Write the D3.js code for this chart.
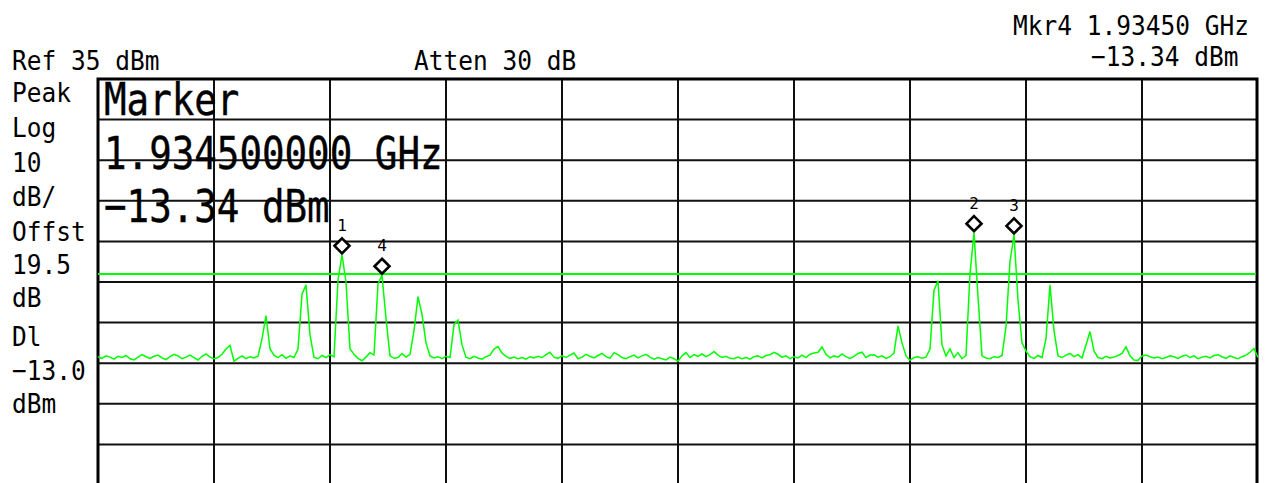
<!DOCTYPE html>
<html><head><meta charset="utf-8">
<script src="https://cdn.jsdelivr.net/npm/d3@7"></script>
<style>html,body{margin:0;padding:0;background:#fff;} svg{display:block;}</style>
</head><body>
<svg id="chart" width="1267" height="483"></svg>
<script>
// ---- data ----
const traceDbm = [
-33.4, -33.8, -33.2, -33.5, -34.0, -33.3, -33.6, -33.1, -33.9, -34.2,
-33.5, -32.9, -33.4, -33.8, -33.3, -33.0, -33.7, -34.1, -33.4, -32.8,
-33.2, -33.9, -33.5, -33.0, -33.6, -34.2, -33.3, -32.7, -33.5, -33.9,
-33.6, -32.8, -31.5, -30.6, -34.5, -33.8, -33.2, -33.9, -33.4, -33.7,
-33.3, -29.0, -23.3, -31.5, -33.0, -33.6, -32.9, -33.8, -33.2, -33.6,
-31.5, -18.0, -15.7, -28.0, -33.5, -33.9, -33.1, -33.6, -32.9, -33.4,
-14.5, -8.3, -15.0, -31.5, -32.8, -33.8, -34.4, -33.5, -32.4, -33.0,
-15.5, -13.34, -24.0, -33.2, -33.8, -33.6, -32.6, -33.5, -32.8, -27.0,
-18.6, -23.0, -30.0, -33.2, -33.7, -33.4, -33.9, -33.3, -33.6, -25.5,
-24.4, -30.5, -33.5, -33.9, -33.3, -33.7, -34.0, -33.4, -33.0, -31.5,
-30.9, -32.5, -33.3, -33.8, -33.5, -33.9, -33.6, -34.0, -33.4, -33.7,
-33.3, -33.6, -32.9, -32.3, -33.5, -33.8, -33.2, -33.6, -33.0, -32.5,
-33.9, -33.5, -32.8, -33.3, -33.7, -33.1, -32.6, -33.4, -33.8, -32.4,
-32.9, -33.6, -33.9, -33.4, -33.0, -33.7, -33.2, -32.8, -33.5, -34.0,
-33.6, -33.9, -34.2, -33.5, -33.9, -34.5, -33.2, -32.4, -33.6, -32.9,
-33.3, -32.7, -33.4, -32.9, -32.1, -33.0, -33.6, -33.3, -33.8, -33.9,
-33.5, -33.9, -33.6, -34.0, -33.4, -33.2, -33.7, -33.1, -32.9, -32.3,
-32.8, -33.5, -33.2, -33.9, -33.4, -33.7, -33.0, -33.6, -32.8, -32.5,
-32.3, -31.0, -32.8, -33.7, -33.2, -33.5, -32.7, -33.4, -33.8, -33.3,
-32.6, -32.3, -33.6, -33.0, -32.9, -33.5, -33.2, -33.8, -33.4, -32.5,
-25.8, -30.0, -33.2, -34.3, -33.6, -33.4, -33.8, -33.5, -31.5, -17.0,
-14.7, -30.5, -33.2, -31.5, -33.6, -32.4, -33.9, -33.1, -13.0, -2.85,
-18.6, -33.2, -33.7, -33.9, -33.4, -33.6, -33.1, -26.0, -10.0, -3.4,
-19.4, -30.0, -32.0, -33.4, -33.8, -33.1, -33.6, -29.0, -15.7, -27.0,
-33.2, -33.6, -33.0, -32.6, -33.4, -32.9, -33.7, -30.5, -27.2, -32.0,
-33.6, -33.9, -33.3, -33.7, -33.5, -33.1, -32.6, -31.0, -33.2, -34.2,
-34.3, -33.2, -33.0, -33.4, -33.7, -33.5, -33.9, -33.6, -33.2, -33.4,
-33.8, -33.3, -33.0, -33.6, -33.2, -33.9, -33.5, -33.3, -33.7, -33.1,
-32.9, -33.4, -33.8, -33.2, -33.6, -33.9, -33.4, -33.0, -32.3, -31.4,
-33.6
];
const refLevelDbm = 35;
const dbPerDiv = 10;
const numDivs = 10;
const displayLineDbm = -13.0;
const markerLabels = ["1", "4", "2", "3"];
const markerIndex = [61, 71, 219, 229];
const leftLabels = ["Peak", "Log", "10", "dB/", "Offst", "19.5", "dB", "Dl", "\u221213.0", "dBm"];
const headerLeft = "Ref 35 dBm";
const headerMid = "Atten 30 dB";
const mkrLine1 = "Mkr4 1.93450 GHz";
const mkrLine2 = "\u221213.34 dBm";
const bigLines = ["Marker", "1.934500000 GHz", "\u221213.34 dBm"];

// ---- layout ----
const L = 98, R = 1258, T = 79, B = 485;
const green = "#00ff00";
const mono = "'DejaVu Sans Mono', monospace";

const svg = d3.select("#chart");
const x = d3.scaleLinear().domain([0, traceDbm.length - 1]).range([L, R]);
const y = d3.scaleLinear().domain([refLevelDbm, refLevelDbm - dbPerDiv * numDivs]).range([T, B]);
const xDiv = d3.scaleLinear().domain([0, numDivs]).range([L, R]);

// grid
const grid = svg.append("g");
grid.selectAll("line.v").data(d3.range(1, numDivs)).join("line")
  .attr("x1", d => xDiv(d)).attr("x2", d => xDiv(d))
  .attr("y1", T).attr("y2", B)
  .attr("stroke", "#111").attr("stroke-width", 2);
grid.selectAll("line.h").data(d3.range(1, numDivs)).join("line")
  .attr("x1", L).attr("x2", R)
  .attr("y1", d => y(refLevelDbm - d * dbPerDiv)).attr("y2", d => y(refLevelDbm - d * dbPerDiv))
  .attr("stroke", "#111").attr("stroke-width", 2);
// frame
svg.append("path")
  .attr("d", `M${L},${B} L${L},${T} L${R - 1},${T} L${R - 1},${B}`)
  .attr("fill", "none").attr("stroke", "#000").attr("stroke-width", 3);

// display line
svg.append("line")
  .attr("x1", L).attr("x2", R - 2)
  .attr("y1", y(displayLineDbm)).attr("y2", y(displayLineDbm))
  .attr("stroke", green).attr("stroke-width", 2);

// trace
svg.append("path")
  .datum(traceDbm)
  .attr("d", d3.line().x((d, i) => x(i)).y(d => y(d)))
  .attr("fill", "none").attr("stroke", green).attr("stroke-width", 1.5);

// markers
const mk = svg.append("g").selectAll("g").data(markerIndex).join("g")
  .attr("transform", d => `translate(${x(d)},${y(traceDbm[d]) - 9})`);
mk.append("path")
  .attr("d", "M0,-7.5 L7.5,0 L0,7.5 L-7.5,0 Z")
  .attr("fill", "#fff").attr("stroke", "#000").attr("stroke-width", 2.6);
mk.append("text")
  .attr("y", -15).attr("text-anchor", "middle")
  .attr("font-family", mono).attr("font-size", 16).attr("fill", "#000")
  .text((d, i) => markerLabels[i]);

// texts
const txt = (s, tx, ty, size, sy, sw) => {
  const t = svg.append("text")
    .attr("transform", `translate(${tx},${ty}) scale(1,${sy})`)
    .attr("font-family", mono)
    .attr("font-size", size).attr("fill", "#000").text(s);
  if (sw) t.attr("stroke", "#000").attr("stroke-width", sw);
  return t;
};

txt(headerLeft, 12, 70, 24.5, 1.12, 0);
txt(headerMid, 414, 70, 24.5, 1.12, 0);
txt(mkrLine1, 1013, 35, 24.5, 1.12, 0);
txt(mkrLine2, 1091, 66, 24.5, 1.12, 0);

const leftBase = [102, 137, 172, 206, 241, 274, 307, 346, 380, 413];
leftLabels.forEach((s, i) => txt(s, 12, leftBase[i], 24.5, 1.12, 0));

const bigBase = [115, 169, 222];
bigLines.forEach((s, i) => txt(s, 104, bigBase[i], 37.5, 1.2, 0.35));
</script>
</body></html>
